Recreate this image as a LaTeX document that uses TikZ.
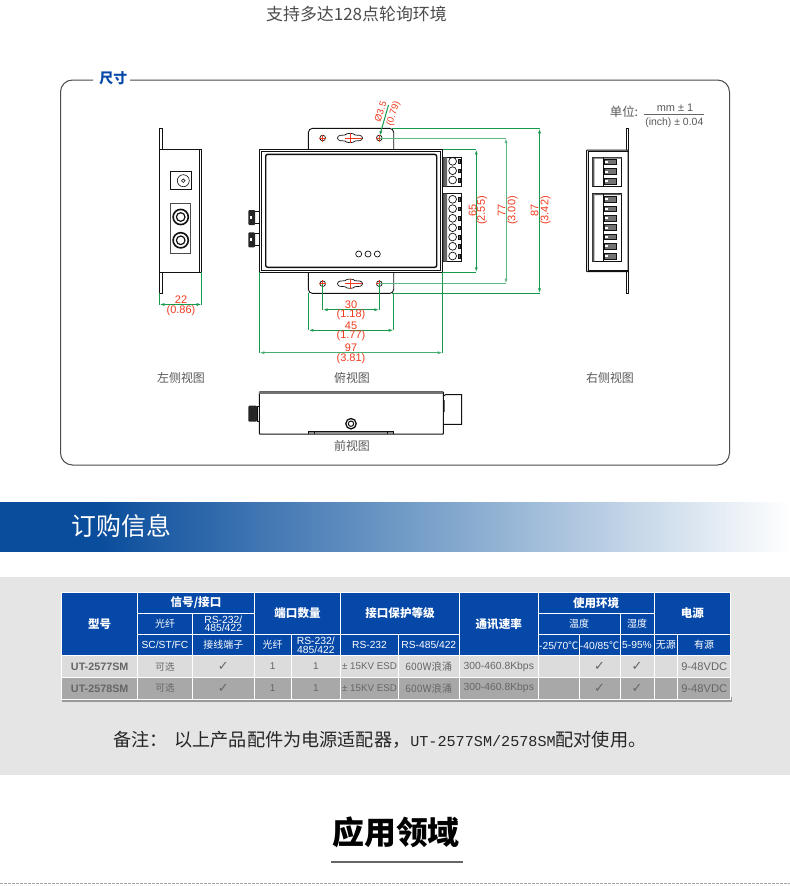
\documentclass[tikz,border=0pt]{standalone}
\usepackage{fontspec}
\setmainfont{Liberation Sans}
\newfontfamily\cjk{Noto Sans CJK SC}
\newfontfamily\latmono{Liberation Mono}
\usetikzlibrary{arrows.meta}
\definecolor{dimg}{HTML}{169A4C}
\definecolor{dimr}{HTML}{F03A1E}
\definecolor{tblue}{HTML}{0548A8}
\definecolor{rowa}{HTML}{DCDCDC}
\definecolor{rowb}{HTML}{A8A8A8}
\definecolor{ink}{HTML}{111111}
\definecolor{bann}{HTML}{0A4D9C}
\definecolor{bannm}{HTML}{7FA5CC}
\newcommand{\fsz}[1]{\fontsize{#1}{#1}\selectfont}
\tikzset{
  part/.style={draw=ink,line width=0.9bp},
  dimline/.style={draw=dimg,line width=1bp},
  dimarrow/.style={dimline,{Latex[length=5bp,width=3bp]}-{Latex[length=5bp,width=3bp]}},
  dimtext/.style={text=dimr,inner sep=0pt,font=\fsz{11}},
  caption/.style={text=black!65,inner sep=0pt,font=\cjk\fsz{12}},
  headcell/.style={fill=tblue,text=white,font=\cjk\bfseries\fsz{11.6}},
  subcell/.style={fill=tblue,text=white,font=\cjk\fsz{10}},
  latcell/.style={fill=tblue,text=white,font=\fsz{10.3}},
  twolat/.style={fill=tblue,text=white,font=\fontsize{10.4}{8.6}\selectfont},
  ra/.style={fill=rowa,text=black!60,font=\cjk\fsz{9.6}},
  rb/.style={fill=rowb,text=black!60,font=\cjk\fsz{9.6}},
}
\newcommand{\tcell}[7]{%
  \pgfmathsetmacro\tcx{(#2+#4)/2}\pgfmathsetmacro\tcy{(#3+#5)/2}%
  \pgfmathsetmacro\tcw{#4-#2}\pgfmathsetmacro\tch{#5-#3}%
  \node[#6,draw=white,line width=1bp,inner sep=0pt,align=center,minimum width=\tcw bp,minimum height=\tch bp] (#1) at (\tcx,\tcy) {#7};}
\newcommand{\dimhole}[2]{%
  \draw[part,line width=0.7bp] (#1,#2) circle (2.8);
  \draw[dimr,line width=0.7bp] (#1-3.5,#2) -- (#1+3.5,#2) (#1,#2-3.5) -- (#1,#2+3.5);}
\newcommand{\keyslot}[2]{%
  \begin{scope}[shift={(#1,#2)}]
  \draw[part,line width=0.7bp] (-12.5,0) .. controls (-12.5,-3) and (-8,-3) .. (-5,-3) .. controls (-4,-5.2) and (4,-5.2) .. (5,-3) .. controls (8,-3) and (12.5,-3) .. (12.5,0) .. controls (12.5,3) and (8,3) .. (5,3) .. controls (4,5.2) and (-4,5.2) .. (-5,3) .. controls (-8,3) and (-12.5,3) .. (-12.5,0) -- cycle;
  \draw[dimr,line width=0.7bp] (-5,0) -- (12,0) (0,-5) -- (0,5);
  \end{scope}}
\newcommand{\ck}{{\fontspec{DejaVu Sans}\fsz{13}\symbol{"2713}}}
\begin{document}
\begin{tikzpicture}[x=1bp,y=-1bp]
\useasboundingbox (0,0) rectangle (790,886);
\fill[white] (0,0) rectangle (790,886);

\node[inner sep=0pt,text=black!70,font=\cjk\fsz{17}] (slogan) at (356.5,14) {支持多达128点轮询环境};

% frame
\draw[black!70,line width=1bp,rounded corners=12bp] (93,80) -- (60.5,80) -- (60.5,465) -- (729.5,465) -- (729.5,80) -- (130,80);
\node[inner sep=0pt,text=tblue,font=\cjk\bfseries\fsz{14}] (dimtitle) at (113.3,78.5) {尺寸};

% left view
\draw[part,fill=white] (159.4,128.4) rectangle (162,293.4);
\draw[part,fill=white,line width=1bp] (159.4,149.4) rectangle (201.7,272.3);
\draw[part] (199.8,149.4) -- (199.8,272.3);
\draw[part,line width=1bp] (170,171.7) rectangle (191.7,189.3);
\draw[part,line width=0.6bp] (183.3,180.7) circle (6) (183.3,180.7) circle (1.8);
\draw[part,line width=1bp,draw=black!70] (170,203.3) rectangle (190,253.3);
\foreach \yy in {217,240.3}{
  \draw[part,line width=1.6bp] (180.7,\yy) circle (7.6);
  \draw[part,line width=1.2bp] (180.7,\yy) circle (4.3);
}
\coordinate (la) at (159.4,293.4); \coordinate (lb) at (201.7,272.3);
\coordinate (lc) at (159.4,304.5); \coordinate (ld) at (201.7,304.5);
\draw[dimline] (la) -- (lc) (lb) -- (ld);
\draw[dimarrow] (lc) -- (ld);
\node[dimtext] (d22a) at (181,300) {22};
\node[dimtext] (d22b) at (181,311) {(0.86)};

% top view : tabs
\draw[part,fill=white,rounded corners=4bp] (308.4,149.4) -- (308.4,128.4) -- (393.7,128.4) -- (393.7,149.4);
\draw[part,fill=white,rounded corners=4bp] (308.4,272.3) -- (308.4,293.4) -- (393.7,293.4) -- (393.7,272.3);
\dimhole{322.7}{138}\dimhole{379.3}{138}\keyslot{350}{138}
\dimhole{322.7}{283.7}\dimhole{379.3}{283.7}\keyslot{350}{283.7}

% top view : connectors
\foreach \yy in {210,232.4}{
  \draw[part,fill=white] (254,\yy+1) rectangle (259.4,\yy+13);
  \fill[rounded corners=1bp,black!85] (248.3,\yy) rectangle (255,\yy+15);
  \fill[white] (250.3,\yy+6) rectangle (252,\yy+8.5);
}
% top view : body
\draw[part,fill=white,line width=1bp] (259.4,149.4) rectangle (442.7,272.3);
\draw[part,line width=0.7bp] (261.5,151.5) rectangle (440.6,270.2);
\draw[part,line width=1.4bp,rounded corners=2bp] (265.7,154.4) rectangle (436.7,267.3);
\foreach \xx in {358.7,368,377.3}{\draw[part,line width=0.7bp] (\xx,254) circle (3);}

% terminals
\draw[part,fill=white] (443.3,157.3) rectangle (461.7,186.3);
\draw[part,fill=white] (443.3,193.7) rectangle (461.7,261.7);
\fill[black!60] (443.3,157.3) rectangle (447,186.3) (443.3,193.7) rectangle (447,261.7);
\foreach \yy in {161.3,170.7,180,199.3,208.7,218.3,227.7,237,246.3,256}{
  \draw[part,line width=0.7bp] (452.6,\yy) circle (3.9);
  \draw[part,line width=0.6bp,fill=black!60] (458.6,\yy-1.8) rectangle (460.2,\yy+1.8);
}

% vertical dimensions
\coordinate (t65) at (442.7,149.4); \coordinate (b65) at (442.7,272.3);
\coordinate (u65) at (476.3,149.4); \coordinate (v65) at (476.3,272.3);
\draw[dimline] (t65) -- (u65) (b65) -- (v65);
\draw[dimarrow] (u65) -- (v65);
\coordinate (t77) at (379.3,138); \coordinate (b77) at (379.3,283.7);
\coordinate (u77) at (506,138); \coordinate (v77) at (506,283.7);
\draw[dimline,draw=dimg!70] (t77) -- (u77) (b77) -- (v77);
\draw[dimarrow,draw=dimg!70] (u77) -- (v77);
\coordinate (t87) at (392,128.4); \coordinate (b87) at (392,293.4);
\coordinate (u87) at (539.5,128.4); \coordinate (v87) at (539.5,293.4);
\draw[dimline] (t87) -- (u87) (b87) -- (v87);
\draw[dimarrow] (u87) -- (v87);
\node[dimtext,rotate=90] (d65a) at (472.6,210.5) {65};
\node[dimtext,rotate=90] (d65b) at (482,210.5) {(2.55)};
\node[dimtext,rotate=90] (d77a) at (501.5,210.5) {77};
\node[dimtext,rotate=90] (d77b) at (512.5,210.5) {(3.00)};
\node[dimtext,rotate=90] (d87a) at (534.5,210.5) {87};
\node[dimtext,rotate=90] (d87b) at (545.5,210.5) {(3.42)};

% horizontal dimensions
\coordinate (l30) at (322.7,283.7); \coordinate (r30) at (379.3,283.7);
\coordinate (m30) at (322.7,309.7); \coordinate (n30) at (379.3,309.7);
\draw[dimline] (l30) -- (m30) (r30) -- (n30);
\draw[dimarrow] (m30) -- (n30);
\coordinate (l45) at (308.4,293.4); \coordinate (r45) at (393.7,293.4);
\coordinate (m45) at (308.4,330.3); \coordinate (n45) at (393.7,330.3);
\draw[dimline] (l45) -- (m45) (r45) -- (n45);
\draw[dimarrow] (m45) -- (n45);
\coordinate (l97) at (259.4,272.3); \coordinate (r97) at (442.7,272.3);
\coordinate (m97) at (259.4,352.7); \coordinate (n97) at (442.7,352.7);
\draw[dimline] (l97) -- (m97) (r97) -- (n97);
\draw[dimarrow,draw=dimg!80] (m97) -- (n97);
\node[dimtext] (d30a) at (351,305) {30};
\node[dimtext] (d30b) at (351,314.8) {(1.18)};
\node[dimtext] (d45a) at (351,326) {45};
\node[dimtext] (d45b) at (351,335.8) {(1.77)};
\node[dimtext] (d97a) at (351,348.2) {97};
\node[dimtext] (d97b) at (351,358.5) {(3.81)};

% diameter
\coordinate (dh) at (379.6,136); \coordinate (de) at (388.5,105);
\draw[dimline,{Latex[length=5bp,width=3bp]}-] (dh) -- (de);
\node[dimtext,rotate=72,font=\fsz{9.5}] (dia) at (380.5,111.5) {Ø3.5};
\node[dimtext,rotate=72,font=\fsz{9.5}] (diab) at (393.5,113.5) {(0.79)};

% right view
\draw[part,fill=white] (626.4,128.4) rectangle (628.6,293.4);
\draw[part,fill=white,line width=1bp,rounded corners=0.5bp] (586.7,150) rectangle (628,271.6);
\draw[part] (588.4,151.6) -- (588.4,270) (588.4,151.6) -- (628,151.6) (588.4,270) -- (628,270);
\draw[part,fill=white,line width=1bp] (592.4,157.3) rectangle (621.7,186.3);
\draw[part,fill=white,line width=1bp] (592.4,193.7) rectangle (621.7,261.7);
\fill[black!65] (592.4,193.7) rectangle (594.4,261.7) (592.4,157.3) rectangle (594.4,186.3);
\fill[black!65] (594.4,157.3) rectangle (621.7,158.5) (594.4,193.7) rectangle (621.7,195);
\draw[part] (603.7,157.3) -- (603.7,186.3) (603.7,193.7) -- (603.7,261.7);
\foreach \yy in {162,171.7,181.3,199.3,209,218.3,227.7,237,246.3,256.3}{
  \draw[part,fill=black!55,line width=1bp] (604.4,\yy-2.9) rectangle (616.7,\yy+2.9);
  \fill[white] (604.8,\yy-1) rectangle (607.5,\yy+1);
}

% unit
\node[inner sep=0pt,text=black!65,font=\cjk\fsz{12.5}] (unit) at (624,112) {单位:};
\node[inner sep=0pt,text=black!65,font=\fsz{11}] (mm) at (675,108) {mm ± 1};
\coordinate (ua) at (644.3,114.3); \coordinate (ub) at (704,114.3);
\draw[black!60,line width=0.8bp] (ua) -- (ub);
\node[inner sep=0pt,text=black!65,font=\fsz{10.5}] (inch) at (674.3,123) {(inch) ± 0.04};

% captions
\node[caption] (capl) at (181,378) {左侧视图};
\node[caption] (capt) at (352,378) {俯视图};
\node[caption] (capr) at (610,378) {右侧视图};
\node[caption] (capf) at (352,446) {前视图};

% front view
\fill[black!85,rounded corners=1bp] (248.3,405.7) rectangle (257,421.7);
\draw[part,fill=white] (257,406.3) rectangle (259.4,421);
\draw[part,fill=white,line width=1bp] (443.3,396) -- (446,394.5) -- (461.7,394.5) -- (461.7,424.3) -- (443.3,424.3) -- cycle;
\fill[black!60] (443.3,400) rectangle (445.3,412);
\draw[part,fill=white,line width=1bp,rounded corners=0.5bp] (259.4,391.8) rectangle (443.3,434);
\fill[black!55] (259.4,391.7) rectangle (443.3,394.4);
\fill[black!45] (308.4,431) rectangle (393.7,434);
\draw[part,line width=0.7bp] (308.4,434) -- (308.4,431) -- (393.7,431) -- (393.7,434) (314,431) -- (314,434) (387.3,431) -- (387.3,434);
\draw[part,line width=1.3bp] (351,423.7) circle (5.2);
\draw[part,line width=1bp] (351,423.7) circle (2.7);

% banner
\shade[left color=bann,right color=white,middle color=bannm] (100,502) rectangle (790,552);
\fill[bann] (0,502) rectangle (100.5,552);
\fill[white] (0,552) rectangle (790,556);
\node[inner sep=0pt,text=white,font=\cjk\fsz{25}] (order) at (121.5,526) {订购信息};

% grey section
\fill[black!10] (0,577) rectangle (790,775);
\fill[black!40] (62,697) rectangle (732,701.5);

% table head
\tcell{h1}{61.7}{592.3}{137.7}{655.7}{headcell}{型号}
\tcell{h2}{137.7}{592.3}{254.3}{613}{headcell}{信号/接口}
\tcell{h3}{137.7}{613}{192.3}{634.7}{subcell}{光纤}
\tcell{h4}{192.3}{613}{254.3}{634.7}{twolat}{RS-232/\\485/422}
\tcell{h5}{137.7}{634.7}{192.3}{655.7}{latcell}{SC/ST/FC}
\tcell{h6}{192.3}{634.7}{254.3}{655.7}{subcell}{接线端子}
\tcell{h7}{254.3}{592.3}{340.7}{634.7}{headcell}{端口数量}
\tcell{h8}{254.3}{634.7}{291}{655.7}{subcell}{光纤}
\tcell{h9}{291}{634.7}{340.7}{655.7}{twolat}{RS-232/\\485/422}
\tcell{h10}{340.7}{592.3}{459.3}{634.7}{headcell}{接口保护等级}
\tcell{h11}{340.7}{634.7}{398.3}{655.7}{latcell}{RS-232}
\tcell{h12}{398.3}{634.7}{459.3}{655.7}{latcell}{RS-485/422}
\tcell{h13}{459.3}{592.3}{538.3}{655.7}{headcell}{通讯速率}
\tcell{h14}{538.3}{592.3}{654}{613}{headcell}{使用环境}
\tcell{h15}{538.3}{613}{620}{634.7}{subcell}{温度}
\tcell{h16}{620}{613}{654}{634.7}{subcell}{湿度}
\tcell{h17}{538.3}{634.7}{579.3}{655.7}{latcell}{-25/70{\cjk ℃}}
\tcell{h18}{579.3}{634.7}{620}{655.7}{latcell}{-40/85{\cjk ℃}}
\tcell{h19}{620}{634.7}{654}{655.7}{latcell}{5-95\%}
\tcell{h20}{654}{592.3}{730.7}{634.7}{headcell}{电源}
\tcell{h21}{654}{634.7}{677.7}{655.7}{subcell}{无源}
\tcell{h22}{677.7}{634.7}{730.7}{655.7}{subcell}{有源}

% table rows
\foreach \rid/\ya/\yb/\sty/\model in {a/655.7/677.3/ra/UT-2577SM,b/677.3/699.3/rb/UT-2578SM}{
  \tcell{m\rid}{61.7}{\ya}{137.7}{\yb}{\sty,font=\bfseries\fsz{10.8}}{\model}
  \tcell{c\rid}{137.7}{\ya}{192.3}{\yb}{\sty}{可选}
  \tcell{d\rid}{192.3}{\ya}{254.3}{\yb}{\sty}{\ck}
  \tcell{e\rid}{254.3}{\ya}{291}{\yb}{\sty,font=\fsz{10}}{1}
  \tcell{f\rid}{291}{\ya}{340.7}{\yb}{\sty,font=\fsz{10}}{1}
  \tcell{g\rid}{340.7}{\ya}{398.3}{\yb}{\sty,font=\fsz{9.8}}{± 15KV ESD}
  \tcell{i\rid}{398.3}{\ya}{459.3}{\yb}{\sty,font=\cjk\fsz{10.3}}{600W浪涌}
  \tcell{j\rid}{459.3}{\ya}{538.3}{\yb}{\sty,font=\fsz{10.4}}{300-460.8Kbps}
  \tcell{k\rid}{538.3}{\ya}{579.3}{\yb}{\sty}{}
  \tcell{l\rid}{579.3}{\ya}{620}{\yb}{\sty}{\ck}
  \tcell{n\rid}{620}{\ya}{654}{\yb}{\sty}{\ck}
  \tcell{o\rid}{654}{\ya}{677.7}{\yb}{\sty}{}
  \tcell{p\rid}{677.7}{\ya}{730.7}{\yb}{\sty,font=\fsz{11.2}}{9-48VDC}
}

% note
\node[anchor=west,inner sep=0pt,text=black!85,font=\cjk\fsz{18.2}] (note) at (113,740) {备注：\hspace{7bp}以上产品配件为电源适配器，{\latmono\fsz{15.2}UT-2577SM/2578SM}配对使用。};

% applications
\node[inner sep=0pt,text=black,font=\cjk\bfseries\fsz{32}] (app) at (396,832.5) {应用领域};
\coordinate (ra) at (331,861.5); \coordinate (rb) at (463,861.5);
\draw[black!60,line width=2bp] (ra) -- (rb);
\coordinate (da) at (0,883.5); \coordinate (db) at (790,883.5);
\draw[black!35,line width=0.8bp,dash pattern=on 3bp off 1bp] (da) -- (db);
\end{tikzpicture}
\end{document}
